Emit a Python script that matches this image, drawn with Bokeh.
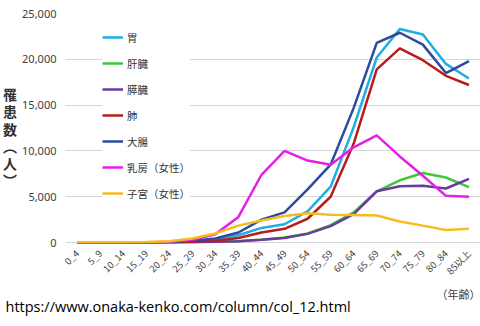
from bokeh.plotting import figure
from bokeh.models import (Range1d, FactorRange, FixedTicker, NumeralTickFormatter,
                          Legend, LegendItem, Title, ColumnDataSource)
from bokeh.embed import file_html
from bokeh.resources import INLINE
import math

ages = ["0_4", "5_9", "10_14", "15_19", "20_24", "25_29", "30_34", "35_39", "40_44",
        "45_49", "50_54", "55_59", "60_64", "65_69", "70_74", "75_79", "80_84", "85以上"]

stomach = [0, 0, 0, 10, 40, 150, 350, 800, 1600, 2000, 3400, 6100, 12600, 20200, 23300, 22700, 19500, 17900]
liver = [0, 0, 0, 0, 10, 30, 80, 150, 300, 550, 1000, 1900, 3300, 5600, 6800, 7600, 7100, 6050]
pancreas = [0, 0, 0, 0, 10, 30, 80, 150, 300, 500, 950, 1800, 3100, 5600, 6150, 6200, 5900, 6950]
lung = [0, 0, 0, 10, 30, 80, 200, 500, 1100, 1500, 2600, 5000, 10800, 18900, 21200, 19900, 18200, 17200]
colon = [0, 0, 0, 20, 60, 200, 450, 1100, 2500, 3300, 5800, 8500, 14700, 21800, 22900, 21600, 18500, 19800]
breast = [0, 0, 0, 20, 100, 300, 900, 2800, 7400, 10000, 8950, 8500, 10400, 11700, 9400, 7300, 5100, 5000]
uterus = [50, 50, 50, 60, 150, 450, 1000, 1850, 2400, 2900, 3200, 3050, 3000, 2950, 2300, 1850, 1380, 1500]

series_names = ["胃", "肝臓", "膵臓", "肺", "大腸", "乳房（女性）", "子宮（女性）"]
series_values = [stomach, liver, pancreas, lung, colon, breast, uterus]
series_colors = ["#1eaee3", "#3ec83e", "#6b3a9c", "#b81c1c", "#2d4b9b", "#e61ee6", "#f7bb22"]

y_ticks = [0, 5000, 10000, 15000, 20000, 25000]

p = figure(width=480, height=326, x_range=FactorRange(*ages), y_range=Range1d(-100, 25000),
           output_backend="svg", toolbar_location=None,
           min_border_left=65, min_border_right=0, min_border_top=13, min_border_bottom=83)
p.outline_line_color = None
p.background_fill_color = "white"
p.border_fill_color = "white"
p.xgrid.grid_line_color = None
p.ygrid.grid_line_color = "#d6d6d6"
p.ygrid.grid_line_width = 1

p.yaxis.ticker = FixedTicker(ticks=y_ticks)
p.yaxis.formatter = NumeralTickFormatter(format="0,0")
p.yaxis.axis_line_color = None
p.yaxis.major_tick_line_color = None
p.yaxis.minor_tick_line_color = None
p.yaxis.major_tick_out = 0
p.yaxis.major_tick_in = 0
p.yaxis.minor_tick_out = 0
p.yaxis.major_label_standoff = 9
p.yaxis.major_label_text_font = "Noto Sans"
p.yaxis.major_label_text_font_size = "11px"
p.yaxis.major_label_text_color = "#404040"
p.yaxis.axis_label = "\n罹\n患\n数\n︵\n人\n︶"
p.yaxis.axis_label_orientation = "horizontal"
p.yaxis.axis_label_standoff = 2
p.yaxis.axis_label_text_font = "Noto Sans CJK JP"
p.yaxis.axis_label_text_font_size = "14px"
p.yaxis.axis_label_text_font_style = "bold"
p.yaxis.axis_label_text_color = "#333333"
p.yaxis.axis_label_text_line_height = 0.86

p.xaxis.axis_line_color = None
p.xaxis.major_tick_line_color = None
p.xaxis.minor_tick_line_color = None
p.xaxis.major_tick_out = 0
p.xaxis.major_tick_in = 0
p.xaxis.minor_tick_out = 0
p.xaxis.major_label_orientation = math.pi / 4
p.xaxis.major_label_standoff = 8
p.xaxis.major_label_text_font = "Noto Sans CJK JP"
p.xaxis.major_label_text_font_size = "9.5px"
p.xaxis.major_label_text_color = "#404040"

items = []
for name, vals, col in zip(series_names, series_values, series_colors):
    src = ColumnDataSource(dict(x=ages, y=vals))
    r = p.line("x", "y", source=src, line_color=col, line_width=2.5)
    items.append(LegendItem(label=name, renderers=[r]))

legend = Legend(items=items, location=(37, 42), margin=0, padding=5,
                spacing=10, glyph_width=21, glyph_height=16, label_height=16,
                label_standoff=4, label_text_font="Noto Sans CJK JP",
                label_text_font_size="10.5px", label_text_color="#333333",
                background_fill_color="white", background_fill_alpha=1.0,
                border_line_color=None)
p.add_layout(legend, "center")

p.add_layout(Title(text="（年齢）", align="right", text_font="Noto Sans CJK JP",
                   text_font_size="11px", text_font_style="normal", text_color="#404040",
                   standoff=-4), "below")
p.add_layout(Title(text="https://www.onaka-kenko.com/column/col_12.html", align="left",
                   offset=-60, text_font="Open Sans", text_font_size="14.5px",
                   text_font_style="normal", text_color="#000000", standoff=-10), "below")

open("out.html", "w").write(file_html(p, INLINE))
